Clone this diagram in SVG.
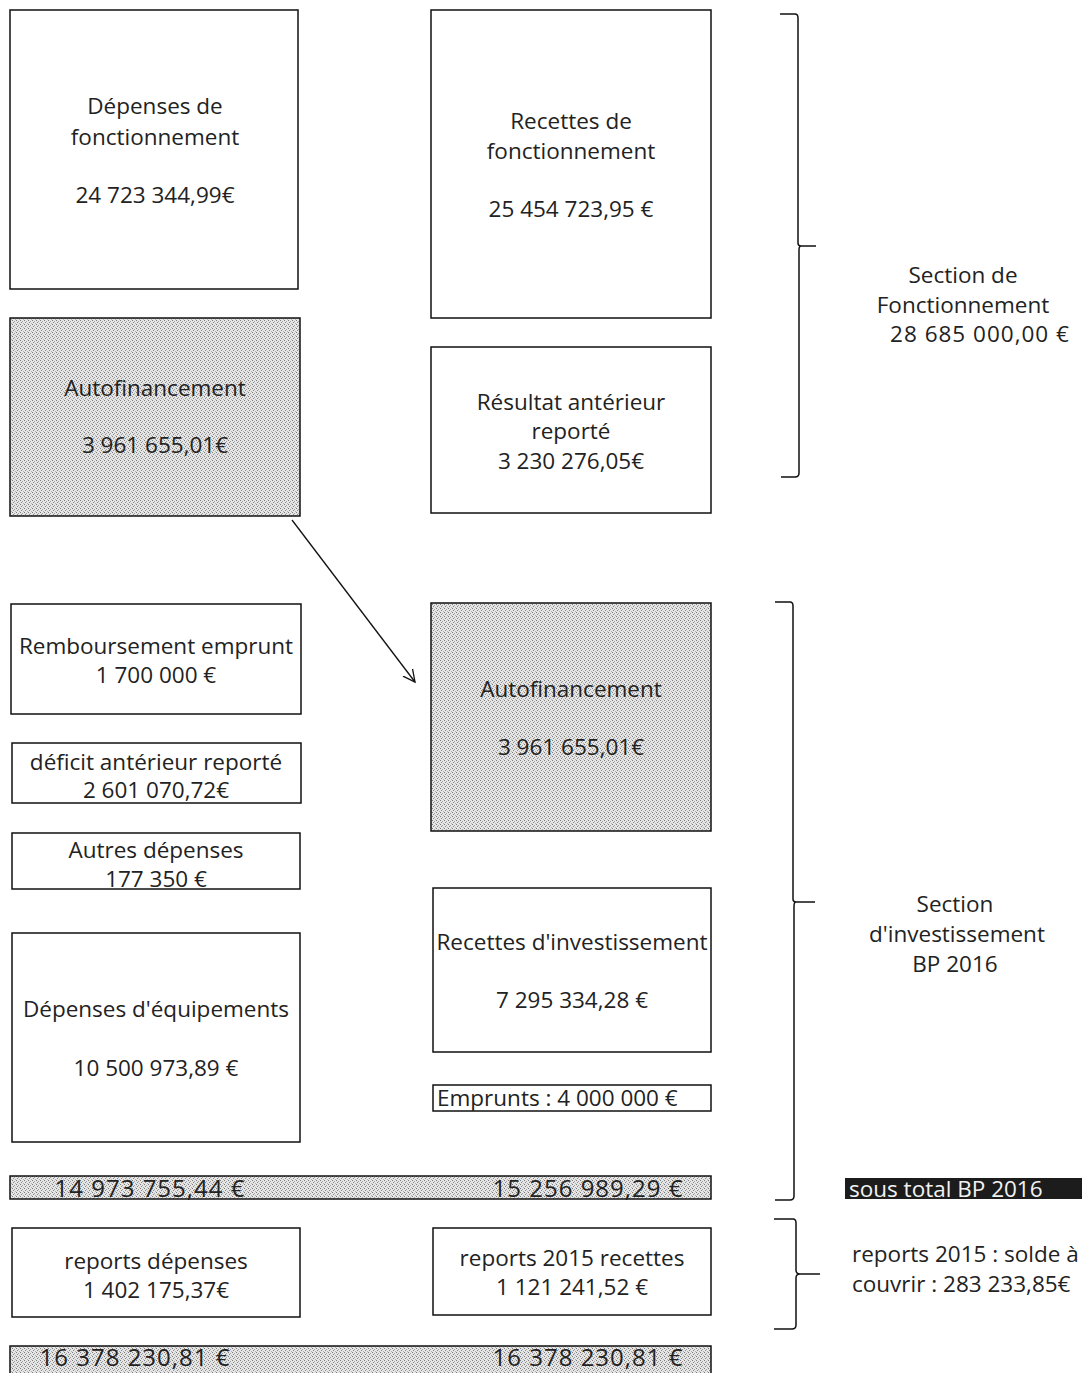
<svg xmlns="http://www.w3.org/2000/svg" width="1082" height="1373" viewBox="0 0 1082 1373">
<style>
.box{fill:#fff;stroke:#111;stroke-width:1.5}
.shd{fill:url(#dots);stroke:#111;stroke-width:1.5}
.t{font-family:"Open Sans","Noto Sans","DejaVu Sans",sans-serif;font-size:22.5px;fill:#222;text-anchor:middle}
.l{text-anchor:start}
.b{font-size:24px;letter-spacing:1px}
.br{fill:none;stroke:#111;stroke-width:1.5}
.arr{fill:none;stroke:#111;stroke-width:1.3}
</style>
<defs>
<pattern id="dots" width="4" height="4" patternUnits="userSpaceOnUse">
<rect width="4" height="4" fill="#e6e6e6"/>
<rect x="0" y="0" width="1" height="1" fill="#7a7a7a"/>
<rect x="2" y="1" width="1" height="1" fill="#a0a0a0"/>
<rect x="1" y="2" width="1" height="1" fill="#8a8a8a"/>
<rect x="3" y="3" width="1" height="1" fill="#b0b0b0"/>
</pattern>
<marker id="open" markerWidth="14" markerHeight="14" refX="12" refY="7" orient="auto" markerUnits="userSpaceOnUse">
<path d="M0,1 L12,7 L0,13" fill="none" stroke="#111" stroke-width="1.3"/>
</marker>
</defs>
<rect width="1082" height="1373" fill="#fff"/>

<g id="connectors">
<line class="arr" x1="292" y1="520" x2="415" y2="682" marker-end="url(#open)"/>
<path id="brace-fonct" class="br" d="M780,14 H795 Q798,14 798,18 V243 Q798,246 801,246 H816 M801,246 Q799,246 799,250 V473 Q799,477 795,477 H781"/>
<path id="brace-invest" class="br" d="M775,602 H790 Q793,602 793,606 V899 Q793,902 796,902 H815 M796,902 Q794,902 794,906 V1196 Q794,1200 790,1200 H775"/>
<path id="brace-reports" class="br" d="M774,1219 H793 Q796,1219 796,1223 V1270 Q796,1274 800,1274 H820 M800,1274 Q796,1274 796,1278 V1325 Q796,1329 792,1329 H774"/>
</g>

<g id="depenses-fonctionnement">
<rect class="box" x="10" y="10" width="288" height="279"/>
<text class="t" x="155" y="114">Dépenses de</text>
<text class="t" x="155" y="145">fonctionnement</text>
<text class="t" x="155" y="203">24 723 344,99€</text>
</g>

<g id="recettes-fonctionnement">
<rect class="box" x="431" y="10" width="280" height="308"/>
<text class="t" x="571" y="129">Recettes de</text>
<text class="t" x="571" y="159">fonctionnement</text>
<text class="t" x="571" y="217">25 454 723,95 €</text>
</g>

<g id="autofinancement-depense">
<rect class="shd" x="10" y="318" width="290" height="198"/>
<text class="t" x="155" y="396">Autofinancement</text>
<text class="t" x="155" y="453">3 961 655,01€</text>
</g>

<g id="resultat-anterieur">
<rect class="box" x="431" y="347" width="280" height="166"/>
<text class="t" x="571" y="410">Résultat antérieur</text>
<text class="t" x="571" y="439">reporté</text>
<text class="t" x="571" y="469">3 230 276,05€</text>
</g>

<g id="remboursement-emprunt">
<rect class="box" x="11" y="604" width="290" height="110"/>
<text class="t" x="156" y="654">Remboursement emprunt</text>
<text class="t" x="156" y="683">1 700 000 €</text>
</g>

<g id="deficit-anterieur">
<rect class="box" x="12" y="743" width="289" height="60"/>
<text class="t" x="156" y="770">déficit antérieur reporté</text>
<text class="t" x="156" y="798">2 601 070,72€</text>
</g>

<g id="autres-depenses">
<rect class="box" x="12" y="833" width="288" height="56"/>
<text class="t" x="156" y="858">Autres dépenses</text>
<text class="t" x="156" y="887">177 350 €</text>
</g>

<g id="depenses-equipements">
<rect class="box" x="12" y="933" width="288" height="209"/>
<text class="t" x="156" y="1017">Dépenses d'équipements</text>
<text class="t" x="156" y="1076">10 500 973,89 €</text>
</g>

<g id="autofinancement-recette">
<rect class="shd" x="431" y="603" width="280" height="228"/>
<text class="t" x="571" y="697">Autofinancement</text>
<text class="t" x="571" y="755">3 961 655,01€</text>
</g>

<g id="recettes-investissement">
<rect class="box" x="433" y="888" width="278" height="164"/>
<text class="t" x="572" y="950">Recettes d'investissement</text>
<text class="t" x="572" y="1008">7 295 334,28 €</text>
</g>

<g id="emprunts">
<rect class="box" x="433" y="1085" width="278" height="26"/>
<text class="t l" x="437" y="1106">Emprunts : 4 000 000 €</text>
</g>

<g id="sous-total-bar">
<rect class="shd" x="10" y="1176" width="701" height="23"/>
<text class="t b" x="150" y="1197">14 973 755,44 €</text>
<text class="t b" x="588" y="1197">15 256 989,29 €</text>
</g>

<g id="reports-depenses">
<rect class="box" x="12" y="1228" width="288" height="89"/>
<text class="t" x="156" y="1269">reports dépenses</text>
<text class="t" x="156" y="1298">1 402 175,37€</text>
</g>

<g id="reports-recettes">
<rect class="box" x="433" y="1228" width="278" height="87"/>
<text class="t" x="572" y="1266">reports 2015 recettes</text>
<text class="t" x="572" y="1295">1 121 241,52 €</text>
</g>

<g id="total-bar">
<rect class="shd" x="10" y="1346" width="701" height="30"/>
<text class="t b" x="135" y="1366">16 378 230,81 €</text>
<text class="t b" x="588" y="1366">16 378 230,81 €</text>
</g>

<g id="label-fonctionnement">
<text class="t" x="963" y="283">Section de</text>
<text class="t" x="963" y="313">Fonctionnement</text>
<text class="t" x="980" y="342" style="letter-spacing:1px">28 685 000,00 €</text>
</g>

<g id="label-investissement">
<text class="t" x="955" y="912">Section</text>
<text class="t" x="957" y="942">d'investissement</text>
<text class="t" x="955" y="972">BP 2016</text>
</g>

<g id="label-sous-total">
<rect x="845" y="1178" width="237" height="21" fill="#1c1c1c"/>
<text class="t l" x="849" y="1197" style="fill:#f2f2f2">sous total BP 2016</text>
</g>

<g id="label-reports">
<text class="t l" x="852" y="1262">reports 2015 : solde à</text>
<text class="t l" x="852" y="1292">couvrir : 283 233,85€</text>
</g>
</svg>
